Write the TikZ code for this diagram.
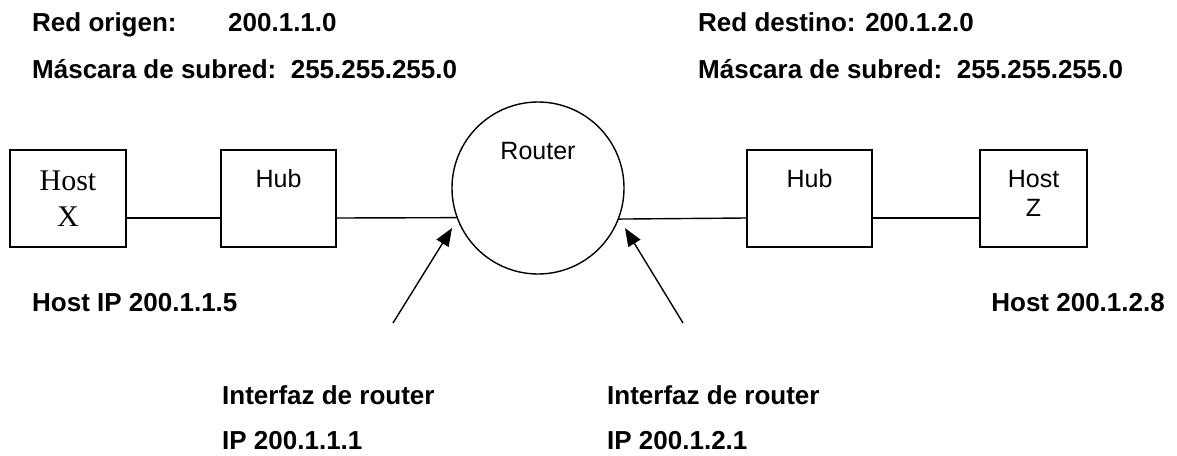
\documentclass[tikz,border=0pt]{standalone}
\usepackage{fontspec}
\setmainfont{Liberation Sans}
\newfontfamily\timesfont{Liberation Serif}
\usetikzlibrary{arrows.meta}
\begin{document}
\begin{tikzpicture}[x=1pt,y=-1pt,
  lbl/.style={anchor=base west,inner sep=0pt,font=\fontsize{26}{30}\selectfont\bfseries},
  boxtxt/.style={anchor=base,inner sep=0pt,font=\fontsize{25}{30}\selectfont},
  sertxt/.style={anchor=base,inner sep=0pt,font=\fontsize{30}{34}\timesfont},
  box/.style={draw,line width=1.4pt,minimum height=97pt,inner sep=0pt},
  wire/.style={line width=1.4pt},
  pointer/.style={line width=1.4pt,-{Triangle[length=18pt,width=14pt]}}]
\useasboundingbox (0,0) rectangle (1177,455);
% boxes
\node[box,minimum width=116pt] (hostX) at (68,198.5) {};
\node[box,minimum width=115pt] (hubL) at (278.5,198.5) {};
\node[draw,circle,line width=1.4pt,minimum size=172pt,inner sep=0pt] (router) at (538,188) {};
\node[box,minimum width=125pt] (hubR) at (809.5,198.5) {};
\node[box,minimum width=107pt] (hostZ) at (1033.5,198.5) {};
% box texts
\node[sertxt] (hostXa) at (68,190) {Host};
\node[sertxt] (hostXb) at (68,226) {X};
\node[boxtxt] (hubLt) at (278.5,187) {Hub};
\node[boxtxt] (routert) at (538,159) {Router};
\node[boxtxt] (hubRt) at (809.5,187) {Hub};
\node[boxtxt] (hostZa) at (1033.5,187) {Host};
\node[boxtxt] (hostZb) at (1033.5,216) {Z};
% wires
\draw[wire] ([yshift=-19.5pt]hostX.east) -- ([yshift=-19.5pt]hubL.west);
\draw[wire] ([yshift=-19.5pt]hubL.east) -- (router.200.4);
\draw[wire] (router.339.6) -- ([yshift=-19.5pt]hubR.west);
\draw[wire] ([yshift=-19.5pt]hubR.east) -- ([yshift=-19.5pt]hostZ.west);
% pointers
\coordinate (p1) at (393,323);
\coordinate (t1) at (452,228);
\coordinate (p2) at (683,323);
\coordinate (t2) at (625,228);
\draw[pointer] (p1) -- (t1);
\draw[pointer] (p2) -- (t2);
% labels
\node[lbl] (ro) at (32,31) {Red origen:};
\node[lbl] (roip) at (228,31) {200.1.1.0};
\node[lbl] (ms1) at (32,78) {Máscara de subred:\ \ 255.255.255.0};
\node[lbl] (rd) at (698,31) {Red destino: 200.1.2.0};
\node[lbl] (ms2) at (698,78) {Máscara de subred:\ \ 255.255.255.0};
\node[lbl] (hip) at (32,311) {Host IP 200.1.1.5};
\node[lbl,anchor=base east] (hz) at (1165,311) {Host 200.1.2.8};
\node[lbl] (if1) at (222,404) {Interfaz de router};
\node[lbl] (ip1) at (222,449) {IP 200.1.1.1};
\node[lbl] (if2) at (607,404) {Interfaz de router};
\node[lbl] (ip2) at (607,449) {IP 200.1.2.1};
\end{tikzpicture}
\end{document}
